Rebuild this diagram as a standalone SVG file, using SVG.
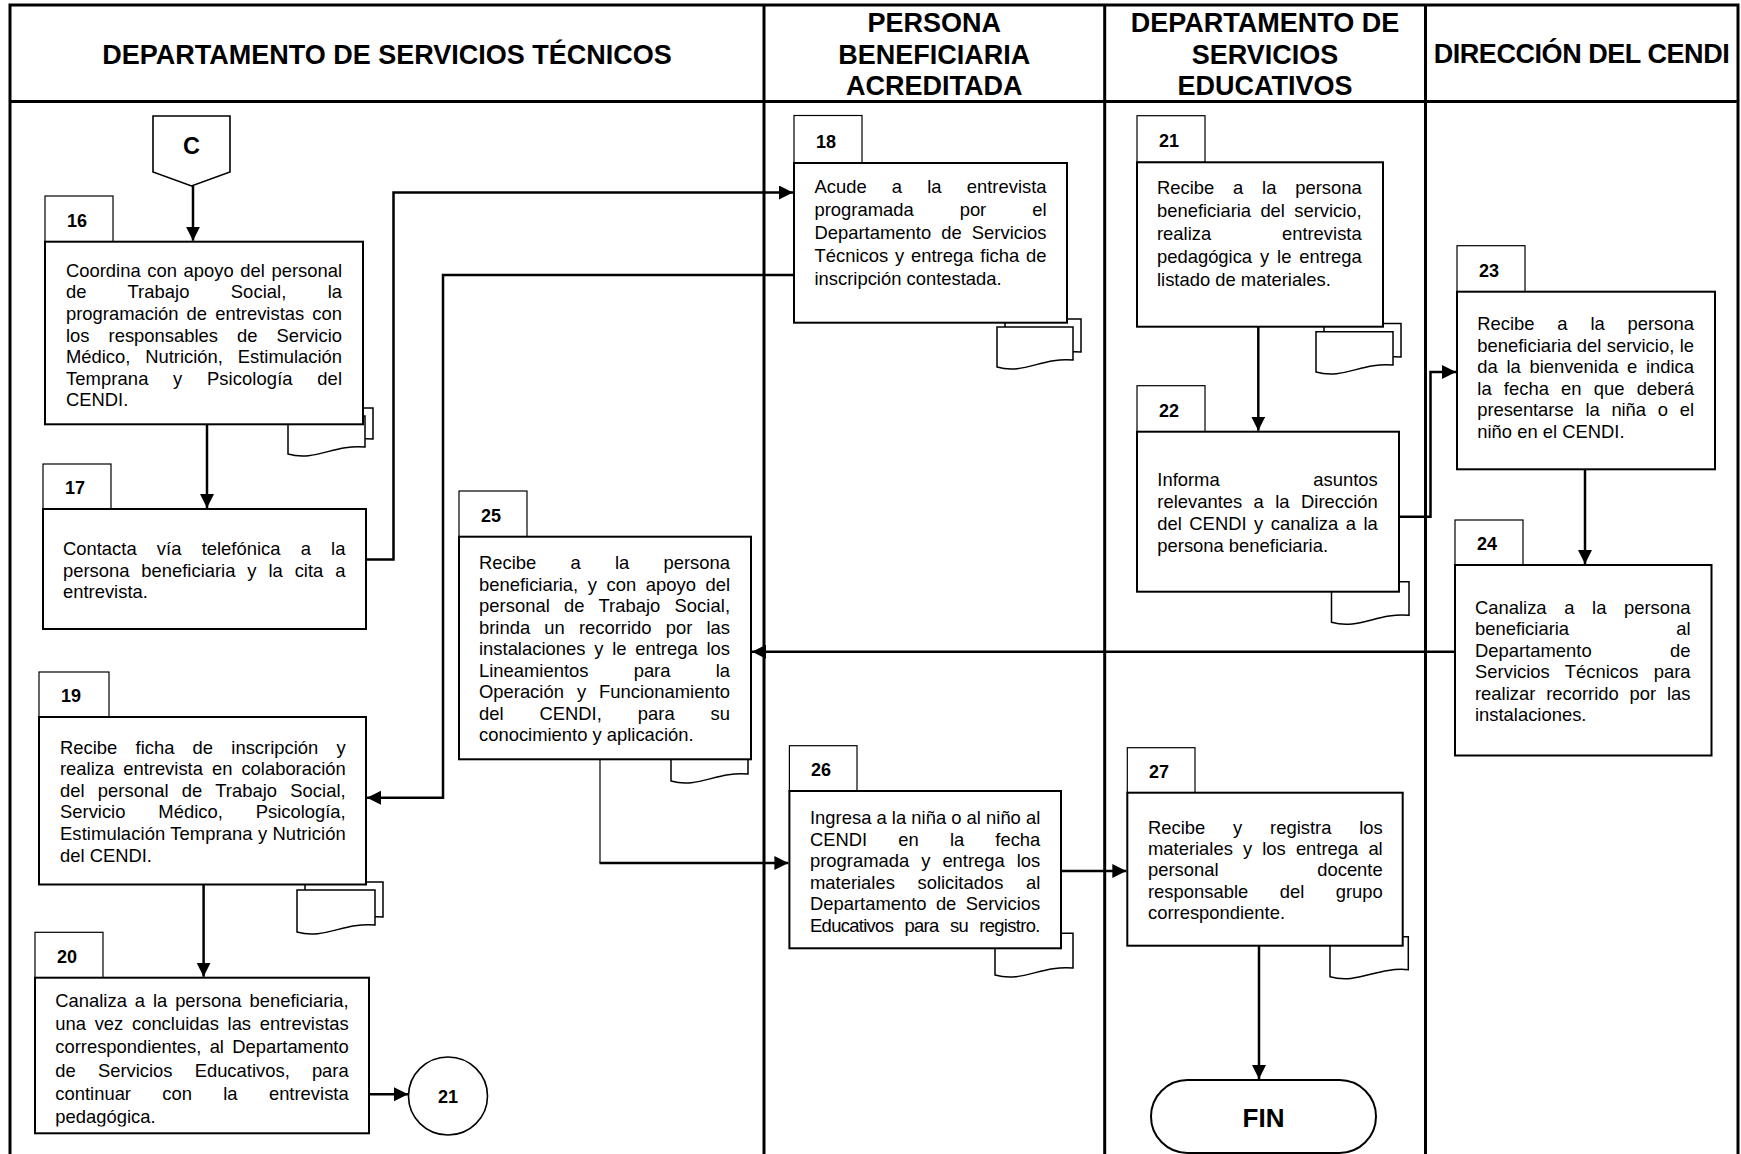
<svg xmlns="http://www.w3.org/2000/svg" width="1741" height="1154" viewBox="0 0 1741 1154">
  <defs>
    <style>
      .frame { fill: none; stroke: #000; stroke-width: 3; }
      .box { fill: #fff; stroke: #000; stroke-width: 2; }
      .tab { fill: #fff; stroke: #000; stroke-width: 1.2; }
      .doc { fill: #fff; stroke: #000; stroke-width: 1.5; }
      .shape { fill: #fff; stroke: #000; stroke-width: 1.6; }
      .conn { fill: none; stroke: #000; stroke-width: 2.5; }
      .thin { fill: none; stroke: #000; stroke-width: 1.2; }
      .t { font-family: "Liberation Sans", Arial, sans-serif; font-size: 18.4px; fill: #000; }
      .num { font-family: "Liberation Sans", Arial, sans-serif; font-size: 18px; font-weight: bold; fill: #000; }
      .hdr { font-family: "Liberation Sans", Arial, sans-serif; font-size: 27px; font-weight: bold; fill: #000; text-anchor: middle; }
      .big { font-family: "Liberation Sans", Arial, sans-serif; font-weight: bold; fill: #000; text-anchor: middle; }
    </style>
    <marker id="arrow" markerUnits="userSpaceOnUse" markerWidth="15" markerHeight="15" refX="14" refY="7" orient="auto">
      <path d="M0,0 L14,7 L0,14 Z" fill="#000"/>
    </marker>
    <!-- the last line of step 20 is cut by its text frame -->
    <clipPath id="clip20">
      <rect x="30" y="970" width="345" height="156.5"/>
    </clipPath>
  </defs>

  <rect width="1741" height="1154" fill="#fff"/>

  <!-- swimlane frame and header -->
  <g id="lanes">
    <path class="frame" d="M10,1154 V5 H1738 V1154"/>
    <path class="frame" d="M10,101.5 H1738"/>
    <path class="frame" d="M764,5 V1154 M1104.7,5 V1154 M1425.5,5 V1154"/>
    <text class="hdr" x="387" y="63.5">DEPARTAMENTO DE SERVICIOS TÉCNICOS</text>
    <text class="hdr" x="934.3" y="32">PERSONA</text>
    <text class="hdr" x="934.3" y="64">BENEFICIARIA</text>
    <text class="hdr" x="934.3" y="95">ACREDITADA</text>
    <text class="hdr" x="1265" y="32">DEPARTAMENTO DE</text>
    <text class="hdr" x="1265" y="64">SERVICIOS</text>
    <text class="hdr" x="1265" y="95">EDUCATIVOS</text>
    <text class="hdr" x="1581.7" y="63.3" textLength="296">DIRECCIÓN DEL CENDI</text>
  </g>

  <!-- off-page connector C -->
  <g id="node-C">
    <path class="shape" d="M153,116 H230 V172 L191.5,186 L153,172 Z"/>
    <text class="big" x="191.5" y="153.5" font-size="23.5px">C</text>
  </g>

  <g id="node-16">
    <path class="doc" d="M296,408 H373 V439 C342.2,436 322.95,454 296,446 Z"/>
    <path class="doc" d="M288,416 H365 V447 C334.2,444 314.95,462 288,454 Z"/>
    <rect class="tab" x="45" y="196" width="68" height="45.7"/>
    <rect class="box" x="45" y="241.7" width="318" height="182.6"/>
    <text class="num" x="67" y="226.7">16</text>
    <text class="t">
      <tspan x="66" y="276.8" word-spacing="1.5" textLength="276">Coordina con apoyo del personal</tspan>
      <tspan x="66" y="298.4" word-spacing="36.1" textLength="276">de Trabajo Social, la</tspan>
      <tspan x="66" y="320" word-spacing="3" textLength="276">programación de entrevistas con</tspan>
      <tspan x="66" y="341.6" word-spacing="13.9" textLength="276">los responsables de Servicio</tspan>
      <tspan x="66" y="363.2" word-spacing="9.7" textLength="276">Médico, Nutrición, Estimulación</tspan>
      <tspan x="66" y="384.8" word-spacing="19.4" textLength="276">Temprana y Psicología del</tspan>
      <tspan x="66" y="406.4">CENDI.</tspan>
    </text>
  </g>

  <g id="node-17">
    <rect class="tab" x="43" y="464" width="68" height="45"/>
    <rect class="box" x="43" y="509" width="323" height="120"/>
    <text class="num" x="65" y="494">17</text>
    <text class="t">
      <tspan x="63" y="555" word-spacing="15.1" textLength="282.4">Contacta vía telefónica a la</tspan>
      <tspan x="63" y="576.5" word-spacing="6.8" textLength="282.4">persona beneficiaria y la cita a</tspan>
      <tspan x="63" y="598">entrevista.</tspan>
    </text>
  </g>

  <g id="node-18">
    <path class="doc" d="M1005,319 H1081 V352 C1050.6,349 1031.6,367 1005,359 Z"/>
    <path class="doc" d="M997,327 H1073 V360 C1042.6,357 1023.6,375 997,367 Z"/>
    <rect class="tab" x="794" y="115.5" width="68" height="47.5"/>
    <rect class="box" x="794" y="163" width="273" height="159.7"/>
    <text class="num" x="816" y="148">18</text>
    <text class="t">
      <tspan x="814.5" y="193.3" word-spacing="20.1" textLength="232">Acude a la entrevista</tspan>
      <tspan x="814.5" y="216.3" word-spacing="40.8" textLength="232">programada por el</tspan>
      <tspan x="814.5" y="239.3" word-spacing="5" textLength="232">Departamento de Servicios</tspan>
      <tspan x="814.5" y="262.3" word-spacing="1.75" textLength="232">Técnicos y entrega ficha de</tspan>
      <tspan x="814.5" y="285.3">inscripción contestada.</tspan>
    </text>
  </g>

  <g id="node-19">
    <path class="doc" d="M305,882 H383 V917 C351.8,914 332.3,932 305,924 Z"/>
    <path class="doc" d="M297,890 H375 V925 C343.8,922 324.3,940 297,932 Z"/>
    <rect class="tab" x="39" y="672" width="70" height="45"/>
    <rect class="box" x="39" y="717" width="327" height="167.5"/>
    <text class="num" x="61" y="702">19</text>
    <text class="t">
      <tspan x="60" y="753.5" word-spacing="13.1" textLength="285.7">Recibe ficha de inscripción y</tspan>
      <tspan x="60" y="775.1" word-spacing="3.9" textLength="285.7">realiza entrevista en colaboración</tspan>
      <tspan x="60" y="796.7" word-spacing="8" textLength="285.7">del personal de Trabajo Social,</tspan>
      <tspan x="60" y="818.3" word-spacing="27.8" textLength="285.7">Servicio Médico, Psicología,</tspan>
      <tspan x="60" y="839.9" word-spacing="0.1" textLength="285.7">Estimulación Temprana y Nutrición</tspan>
      <tspan x="60" y="861.5">del CENDI.</tspan>
    </text>
  </g>

  <g id="node-20">
    <rect class="tab" x="35" y="932.3" width="68" height="45.4"/>
    <rect class="box" x="35" y="977.7" width="334" height="155.6"/>
    <text class="num" x="57" y="962.7">20</text>
    <text class="t" clip-path="url(#clip20)">
      <tspan x="55.3" y="1007" word-spacing="2.8" textLength="293.4">Canaliza a la persona beneficiaria,</tspan>
      <tspan x="55.3" y="1030.2" word-spacing="3.55" textLength="293.4">una vez concluidas las entrevistas</tspan>
      <tspan x="55.3" y="1053.4" word-spacing="3.2" textLength="293.4">correspondientes, al Departamento</tspan>
      <tspan x="55.3" y="1076.6" word-spacing="17" textLength="293.4">de Servicios Educativos, para</tspan>
      <tspan x="55.3" y="1099.8" word-spacing="26.2" textLength="293.4">continuar con la entrevista</tspan>
      <tspan x="55.3" y="1123">pedagógica.</tspan>
    </text>
  </g>

  <!-- on-page connector to step 21 -->
  <g id="node-ref21">
    <ellipse class="shape" cx="448" cy="1096" rx="39.5" ry="39"/>
    <text class="num" x="448" y="1102.5" text-anchor="middle">21</text>
  </g>

  <g id="node-21">
    <path class="doc" d="M1324,323.5 H1401 V357 C1370.2,354 1350.95,372 1324,364 Z"/>
    <path class="doc" d="M1316,331.7 H1393 V365 C1362.2,362 1342.95,380 1316,372 Z"/>
    <rect class="tab" x="1137" y="115.7" width="68" height="46.6"/>
    <rect class="box" x="1137" y="162.3" width="246" height="164.4"/>
    <text class="num" x="1159" y="147.3">21</text>
    <text class="t">
      <tspan x="1157" y="194" word-spacing="13.7" textLength="204.7">Recibe a la persona</tspan>
      <tspan x="1157" y="217" word-spacing="4.2" textLength="204.7">beneficiaria del servicio,</tspan>
      <tspan x="1157" y="240" word-spacing="65.6" textLength="204.7">realiza entrevista</tspan>
      <tspan x="1157" y="263" word-spacing="2.8" textLength="204.7">pedagógica y le entrega</tspan>
      <tspan x="1157" y="286">listado de materiales.</tspan>
    </text>
  </g>

  <g id="node-22">
    <path class="doc" d="M1331.5,581.7 H1409 V615.3 C1378,612.3 1358.6,630.3 1331.5,622.3 Z"/>
    <rect class="tab" x="1137" y="385.7" width="68" height="46"/>
    <rect class="box" x="1137" y="431.7" width="262" height="160"/>
    <text class="num" x="1159" y="416.7">22</text>
    <text class="t">
      <tspan x="1157.3" y="485.6" word-spacing="88.5" textLength="220.4">Informa asuntos</tspan>
      <tspan x="1157.3" y="507.8" word-spacing="6.3" textLength="220.4">relevantes a la Dirección</tspan>
      <tspan x="1157.3" y="530" word-spacing="2.36" textLength="220.4">del CENDI y canaliza a la</tspan>
      <tspan x="1157.3" y="552.2">persona beneficiaria.</tspan>
    </text>
  </g>

  <g id="node-23">
    <rect class="tab" x="1457" y="245.7" width="68" height="46"/>
    <rect class="box" x="1457" y="291.7" width="258" height="177.6"/>
    <text class="num" x="1479" y="276.7">23</text>
    <text class="t">
      <tspan x="1477.3" y="330" word-spacing="17.7" textLength="216.7">Recibe a la persona</tspan>
      <tspan x="1477.3" y="351.6" word-spacing="0.3" textLength="216.7">beneficiaria del servicio, le</tspan>
      <tspan x="1477.3" y="373.2" word-spacing="3.55" textLength="216.7">da la bienvenida e indica</tspan>
      <tspan x="1477.3" y="394.8" word-spacing="7.1" textLength="216.7">la fecha en que deberá</tspan>
      <tspan x="1477.3" y="416.4" word-spacing="6.8" textLength="216.7">presentarse la niña o el</tspan>
      <tspan x="1477.3" y="438">niño en el CENDI.</tspan>
    </text>
  </g>

  <g id="node-24">
    <rect class="tab" x="1455" y="520" width="68" height="45"/>
    <rect class="box" x="1455" y="565" width="256.5" height="190.5"/>
    <text class="num" x="1477" y="550">24</text>
    <text class="t">
      <tspan x="1475" y="614" word-spacing="12.5" textLength="215.5">Canaliza a la persona</tspan>
      <tspan x="1475" y="635.4" word-spacing="102" textLength="215.5">beneficiaria al</tspan>
      <tspan x="1475" y="656.8" word-spacing="73.3" textLength="215.5">Departamento de</tspan>
      <tspan x="1475" y="678.2" word-spacing="10.1" textLength="215.5">Servicios Técnicos para</tspan>
      <tspan x="1475" y="699.6" word-spacing="5.7" textLength="215.5">realizar recorrido por las</tspan>
      <tspan x="1475" y="721">instalaciones.</tspan>
    </text>
  </g>

  <g id="node-25">
    <path class="doc" d="M671,750 H748 V774 C717.2,771 697.95,789 671,781 Z"/>
    <rect class="tab" x="459" y="491" width="68" height="45.7"/>
    <rect class="box" x="459" y="536.7" width="292" height="222.6"/>
    <text class="num" x="481" y="521.7">25</text>
    <text class="t">
      <tspan x="479" y="569" word-spacing="29.1" textLength="251">Recibe a la persona</tspan>
      <tspan x="479" y="590.6" word-spacing="4.45" textLength="251">beneficiaria, y con apoyo del</tspan>
      <tspan x="479" y="612.1" word-spacing="9" textLength="251">personal de Trabajo Social,</tspan>
      <tspan x="479" y="633.7" word-spacing="9.1" textLength="251">brinda un recorrido por las</tspan>
      <tspan x="479" y="655.2" word-spacing="3.7" textLength="251">instalaciones y le entrega los</tspan>
      <tspan x="479" y="676.8" word-spacing="40.1" textLength="251">Lineamientos para la</tspan>
      <tspan x="479" y="698.3" word-spacing="7.9" textLength="251">Operación y Funcionamiento</tspan>
      <tspan x="479" y="719.9" word-spacing="30.8" textLength="251">del CENDI, para su</tspan>
      <tspan x="479" y="741.4">conocimiento y aplicación.</tspan>
    </text>
  </g>

  <g id="node-26">
    <path class="doc" d="M995,933.3 H1073 V968 C1041.8,965 1022.3,983 995,975 Z"/>
    <rect class="tab" x="789.4" y="745.7" width="67.6" height="45.3"/>
    <rect class="box" x="789.4" y="791" width="271.6" height="157.3"/>
    <text class="num" x="811" y="776">26</text>
    <text class="t">
      <tspan x="810" y="824" textLength="230.3">Ingresa a la niña o al niño al</tspan>
      <tspan x="810" y="845.5" word-spacing="26" textLength="230.3">CENDI en la fecha</tspan>
      <tspan x="810" y="867" word-spacing="6.9" textLength="230.3">programada y entrega los</tspan>
      <tspan x="810" y="888.5" word-spacing="17.5" textLength="230.3">materiales solicitados al</tspan>
      <tspan x="810" y="910" word-spacing="4.2" textLength="230.3">Departamento de Servicios</tspan>
      <tspan x="810" y="931.5" word-spacing="6.9" textLength="230.3">Educativos para su registro.</tspan>
    </text>
  </g>

  <g id="node-27">
    <path class="doc" d="M1330,936.7 H1408.3 V969.7 C1377,966.7 1357.4,984.7 1330,976.7 Z"/>
    <rect class="tab" x="1127.3" y="747.7" width="67.7" height="45"/>
    <rect class="box" x="1127.3" y="792.7" width="275.4" height="153"/>
    <text class="num" x="1149" y="777.7">27</text>
    <text class="t">
      <tspan x="1148" y="833.5" word-spacing="22.7" textLength="234.7">Recibe y registra los</tspan>
      <tspan x="1148" y="854.9" word-spacing="5" textLength="234.7">materiales y los entrega al</tspan>
      <tspan x="1148" y="876.3" word-spacing="93.6" textLength="234.7">personal docente</tspan>
      <tspan x="1148" y="897.7" word-spacing="26.3" textLength="234.7">responsable del grupo</tspan>
      <tspan x="1148" y="919.1">correspondiente.</tspan>
    </text>
  </g>

  <g id="node-fin">
    <rect class="box" x="1151" y="1080" width="225" height="73" rx="36.5" ry="36.5"/>
    <text class="big" x="1263.5" y="1126.5" font-size="26px">FIN</text>
  </g>

  <!-- flow connectors -->
  <g id="connectors">
    <path class="conn" d="M193,186 V240.7" marker-end="url(#arrow)"/>
    <path class="conn" d="M207,424.3 V508" marker-end="url(#arrow)"/>
    <path class="conn" d="M366,559.5 H393.5 V192.5 H793" marker-end="url(#arrow)"/>
    <path class="conn" d="M794,275 H443 V797.7 H367" marker-end="url(#arrow)"/>
    <path class="conn" d="M203.6,884.5 V976.7" marker-end="url(#arrow)"/>
    <path class="conn" d="M369,1094.3 H408" marker-end="url(#arrow)"/>
    <path class="conn" d="M1258.3,326.7 V430.7" marker-end="url(#arrow)"/>
    <path class="conn" d="M1399,516.7 H1430.5 V372 H1456" marker-end="url(#arrow)"/>
    <path class="conn" d="M1585,469.3 V564" marker-end="url(#arrow)"/>
    <path class="conn" d="M1455,651.7 H752" marker-end="url(#arrow)"/>
    <path class="thin" d="M600,759.3 V863"/>
    <path class="conn" d="M599.5,863 H788.4" marker-end="url(#arrow)"/>
    <path class="conn" d="M1061,871 H1126.3" marker-end="url(#arrow)"/>
    <path class="conn" d="M1259,945.7 V1079" marker-end="url(#arrow)"/>
  </g>
</svg>
